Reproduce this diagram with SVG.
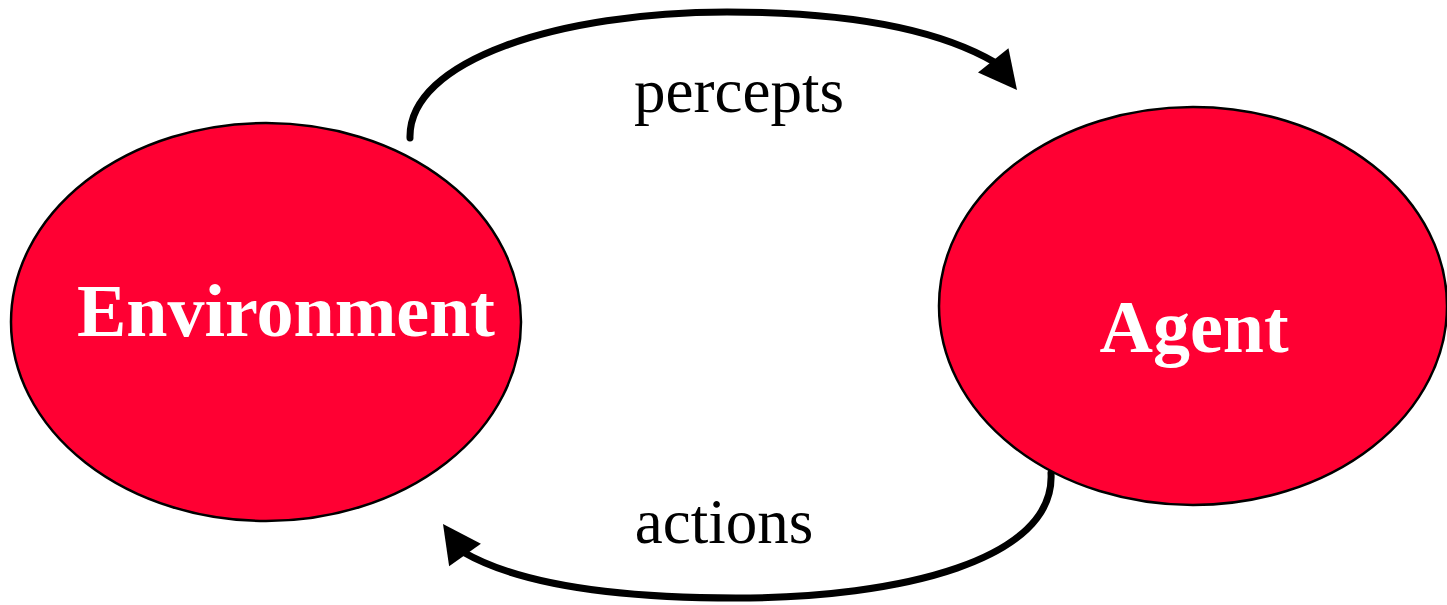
<svg xmlns="http://www.w3.org/2000/svg" width="1447" height="605" viewBox="0 0 1447 605">
  <style>
    .node { fill: #FF0033; stroke: #000; stroke-width: 2.5; }
    .nlabel { font-family: "Liberation Serif", "Times New Roman", serif; font-weight: bold; font-size: 74px; fill: #fff; text-anchor: middle; }
    .elabel { font-family: "Liberation Serif", "Times New Roman", serif; font-size: 63px; fill: #000; text-anchor: middle; }
    .conn { fill: none; stroke: #000; stroke-width: 7; stroke-linecap: round; }
  </style>
  <defs>
    <polygon id="head" points="0,0 -38,-19.5 -38,19.5" fill="#000"/>
  </defs>
  <rect width="1447" height="605" fill="#fff"/>
  <g id="connectors">
    <path class="conn" d="M410,138 C408,60 560,12 727,12 C850,12 940,30 996,63"/>
    <use href="#head" transform="translate(1017,90) rotate(51.3)"/>
    <text class="elabel" x="739" y="112">percepts</text>
    <path class="conn" d="M1051,473 C1056,560 900,598 736,598 C620,598 520,585 463,552"/>
    <use href="#head" transform="translate(443,524) rotate(-125.4)"/>
    <text class="elabel" x="724" y="543">actions</text>
  </g>
  <g id="environment">
    <ellipse class="node" cx="266" cy="322" rx="255" ry="199"/>
    <text class="nlabel" x="286" y="336">Environment</text>
  </g>
  <g id="agent">
    <ellipse class="node" cx="1193" cy="306" rx="254" ry="199"/>
    <text class="nlabel" x="1194" y="352">Agent</text>
  </g>
</svg>
